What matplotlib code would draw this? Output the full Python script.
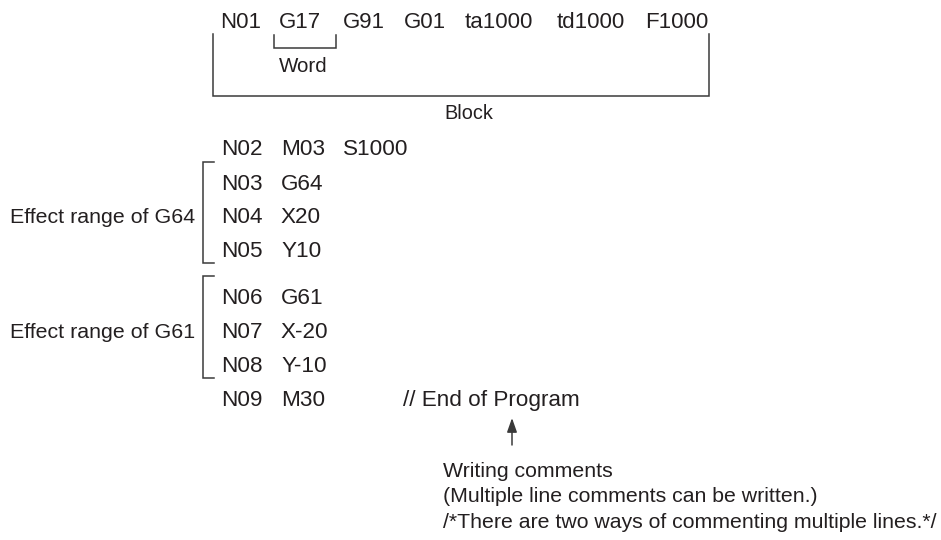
import matplotlib
matplotlib.use("Agg")
import matplotlib.pyplot as plt

plt.rcParams['font.family'] = ['Liberation Sans', 'DejaVu Sans']

# ---- content ----
block_words = ["N01", "G17", "G91", "G01", "ta1000", "td1000", "F1000"]
block_word_x = [220, 279, 343, 404, 465, 557, 645]

program_rows = [
    ["N02", "M03", "S1000"],
    ["N03", "G64"],
    ["N04", "X20"],
    ["N05", "Y10"],
    ["N06", "G61"],
    ["N07", "X-20"],
    ["N08", "Y-10"],
    ["N09", "M30"],
]
row_baseline = [155, 190, 223, 257, 304, 338, 372, 406]
col_x = [221, 281, 343]

ranges = [("Effect range of G64", 1, 3), ("Effect range of G61", 4, 6)]

end_comment = "// End of Program"
comment_lines = [
    "Writing comments",
    "(Multiple line comments can be written.)",
    "/*There are two ways of commenting multiple lines.*/",
]

TXT = '#231f20'
LN = '#3a3a3a'
LW = 1.1

fig = plt.figure(figsize=(9.41, 5.40), dpi=100)
ax = fig.add_axes([0, 0, 1, 1])
ax.set_xlim(0, 941)
ax.set_ylim(540, 0)
ax.axis('off')

# Row 1 (block)
for w, x in zip(block_words, block_word_x):
    ax.text(x, 28, w, fontsize=16, color=TXT, ha='left', va='baseline')

# Block bracket
ax.plot([213, 213, 709, 709], [34, 96, 96, 34], color=LN, lw=LW, solid_joinstyle='miter')
ax.text(469, 119, "Block", fontsize=14.3, color=TXT, ha='center', va='baseline')

# Word bracket
ax.plot([274, 274, 336, 336], [35, 48, 48, 35], color=LN, lw=LW, solid_joinstyle='miter')
ax.text(303, 72, "Word", fontsize=14.8, color=TXT, ha='center', va='baseline')

# Program rows
for row, y in zip(program_rows, row_baseline):
    for j, tok in enumerate(row):
        ax.text(col_x[j], y, tok, fontsize=16.2, color=TXT, ha='left', va='baseline')

# Effect range brackets
for label, i0, i1 in ranges:
    ytop = row_baseline[i0] - 28
    ybot = row_baseline[i1] + 6
    ax.plot([214, 203, 203, 214], [ytop, ytop, ybot, ybot], color=LN, lw=LW,
            solid_joinstyle='miter')
    ax.text(195, row_baseline[(i0 + i1) // 2], label, fontsize=15.4, color=TXT,
            ha='right', va='baseline')

# End of program comment
ax.text(403, row_baseline[-1], end_comment, fontsize=16.2, color=TXT, ha='left',
        va='baseline')

# Arrow
ax.annotate("", xy=(512, 418), xytext=(512, 445),
            arrowprops=dict(arrowstyle='-|>,head_length=0.85,head_width=0.3',
                            color=LN, lw=LW, shrinkA=0, shrinkB=0))

# Comment lines
for k, line in enumerate(comment_lines):
    ax.text(443, 477 + k * 25.5, line, fontsize=15.3, color=TXT, ha='left',
            va='baseline')

fig.savefig("out.png", dpi=100)
